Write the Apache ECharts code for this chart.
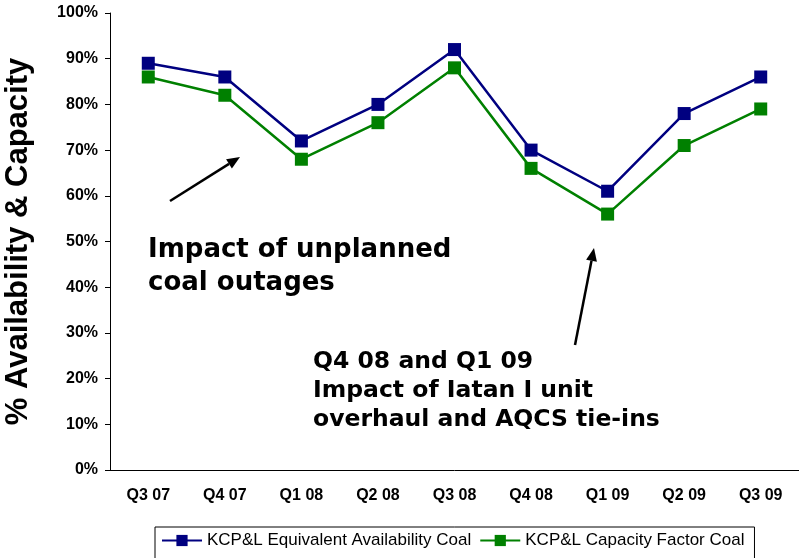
<!DOCTYPE html>
<html>
<head>
<meta charset="UTF-8">
<title>KCP&L Coal Availability</title>
<script src="https://cdn.jsdelivr.net/npm/echarts@6/dist/echarts.min.js"></script>
<style>
    html, body { margin: 0; padding: 0; background: #fff; }
    #chart { width: 799px; height: 558px; }
</style>
</head>
<body>
<div id="chart"></div>
<script>
    // quarters on the x axis
    const quarters = ['Q3 07', 'Q4 07', 'Q1 08', 'Q2 08', 'Q3 08', 'Q4 08', 'Q1 09', 'Q2 09', 'Q3 09'];
    // values in percent
    const availability = [89, 86, 72, 80, 92, 70, 61, 78, 86];
    const capacityFactor = [86, 82, 68, 76, 88, 66, 56, 71, 79];
    const seriesNames = ['KCP&L Equivalent Availability Coal', 'KCP&L Capacity Factor Coal'];

    const note1 = ['Impact of unplanned', 'coal outages'];
    const note2 = ['Q4 08 and Q1 09', 'Impact of Iatan I unit', 'overhaul and AQCS tie-ins'];

    const chart = echarts.init(document.getElementById('chart'));

    // simple arrow: line + filled head, tip at (x2, y2)
    function arrow(x1, y1, x2, y2) {
        const ang = Math.atan2(y2 - y1, x2 - x1);
        const len = 13, half = 5.5;
        const bx = x2 - len * Math.cos(ang), by = y2 - len * Math.sin(ang);
        const px = -Math.sin(ang) * half, py = Math.cos(ang) * half;
        return [
            { type: 'line', shape: { x1: x1, y1: y1, x2: bx, y2: by }, style: { stroke: '#000', lineWidth: 2.5 } },
            { type: 'polygon', shape: { points: [[x2, y2], [bx + px, by + py], [bx - px, by - py]] }, style: { fill: '#000' } }
        ];
    }

    const noteFont = 'bold {s}px "DejaVu Sans", Verdana, sans-serif';
    const graphics = [];
    note1.forEach((t, i) => {
        graphics.push({ type: 'text', left: 148, top: 237 + i * 33,
            style: { text: t, font: noteFont.replace('{s}', 26), fill: '#000' } });
    });
    note2.forEach((t, i) => {
        graphics.push({ type: 'text', left: 313, top: 350 + i * 29,
            style: { text: t, font: noteFont.replace('{s}', 23.5), fill: '#000' } });
    });
    graphics.push(...arrow(170, 201, 240, 157));
    graphics.push(...arrow(575, 345, 594, 248));

    const axisFont = { fontFamily: 'Liberation Sans, Arial, sans-serif', fontWeight: 'bold', fontSize: 16, color: '#000' };

    chart.setOption({
        animation: false,
        grid: { left: 110, right: 0, top: 13, bottom: 88, containLabel: false, outerBoundsMode: 'none' },
        legend: {
            data: seriesNames,
            left: 155,
            top: 527,
            padding: [5, 10, 12, 6],
            itemGap: 8,
            itemWidth: 40,
            itemHeight: 14,
            borderColor: '#000',
            borderWidth: 1,
            textStyle: { fontFamily: 'Liberation Sans, Arial, sans-serif', fontSize: 17, color: '#000' }
        },
        xAxis: {
            type: 'category',
            data: quarters,
            axisLine: { lineStyle: { color: '#000', width: 1 } },
            axisTick: { length: 5, lineStyle: { color: '#000' } },
            axisLabel: Object.assign({ margin: 18 }, axisFont)
        },
        yAxis: {
            type: 'value',
            min: 0,
            max: 100,
            interval: 10,
            name: '% Availability & Capacity',
            nameLocation: 'middle',
            nameGap: 76,
            nameTextStyle: { fontFamily: 'Liberation Sans, Arial, sans-serif', fontWeight: 'bold', fontSize: 31, color: '#000' },
            axisLine: { show: true, lineStyle: { color: '#000', width: 1 } },
            axisTick: { show: true, length: 5, lineStyle: { color: '#000' } },
            splitLine: { show: false },
            axisLabel: Object.assign({ margin: 12, formatter: '{value}%' }, axisFont)
        },
        series: [
            {
                name: seriesNames[0],
                type: 'line',
                data: availability,
                symbol: 'rect',
                symbolSize: 13,
                lineStyle: { color: '#000080', width: 2.5 },
                itemStyle: { color: '#000080' }
            },
            {
                name: seriesNames[1],
                type: 'line',
                data: capacityFactor,
                symbol: 'rect',
                symbolSize: 13,
                lineStyle: { color: '#008000', width: 2.5 },
                itemStyle: { color: '#008000' }
            }
        ],
        graphic: graphics
    });
</script>
</body>
</html>
